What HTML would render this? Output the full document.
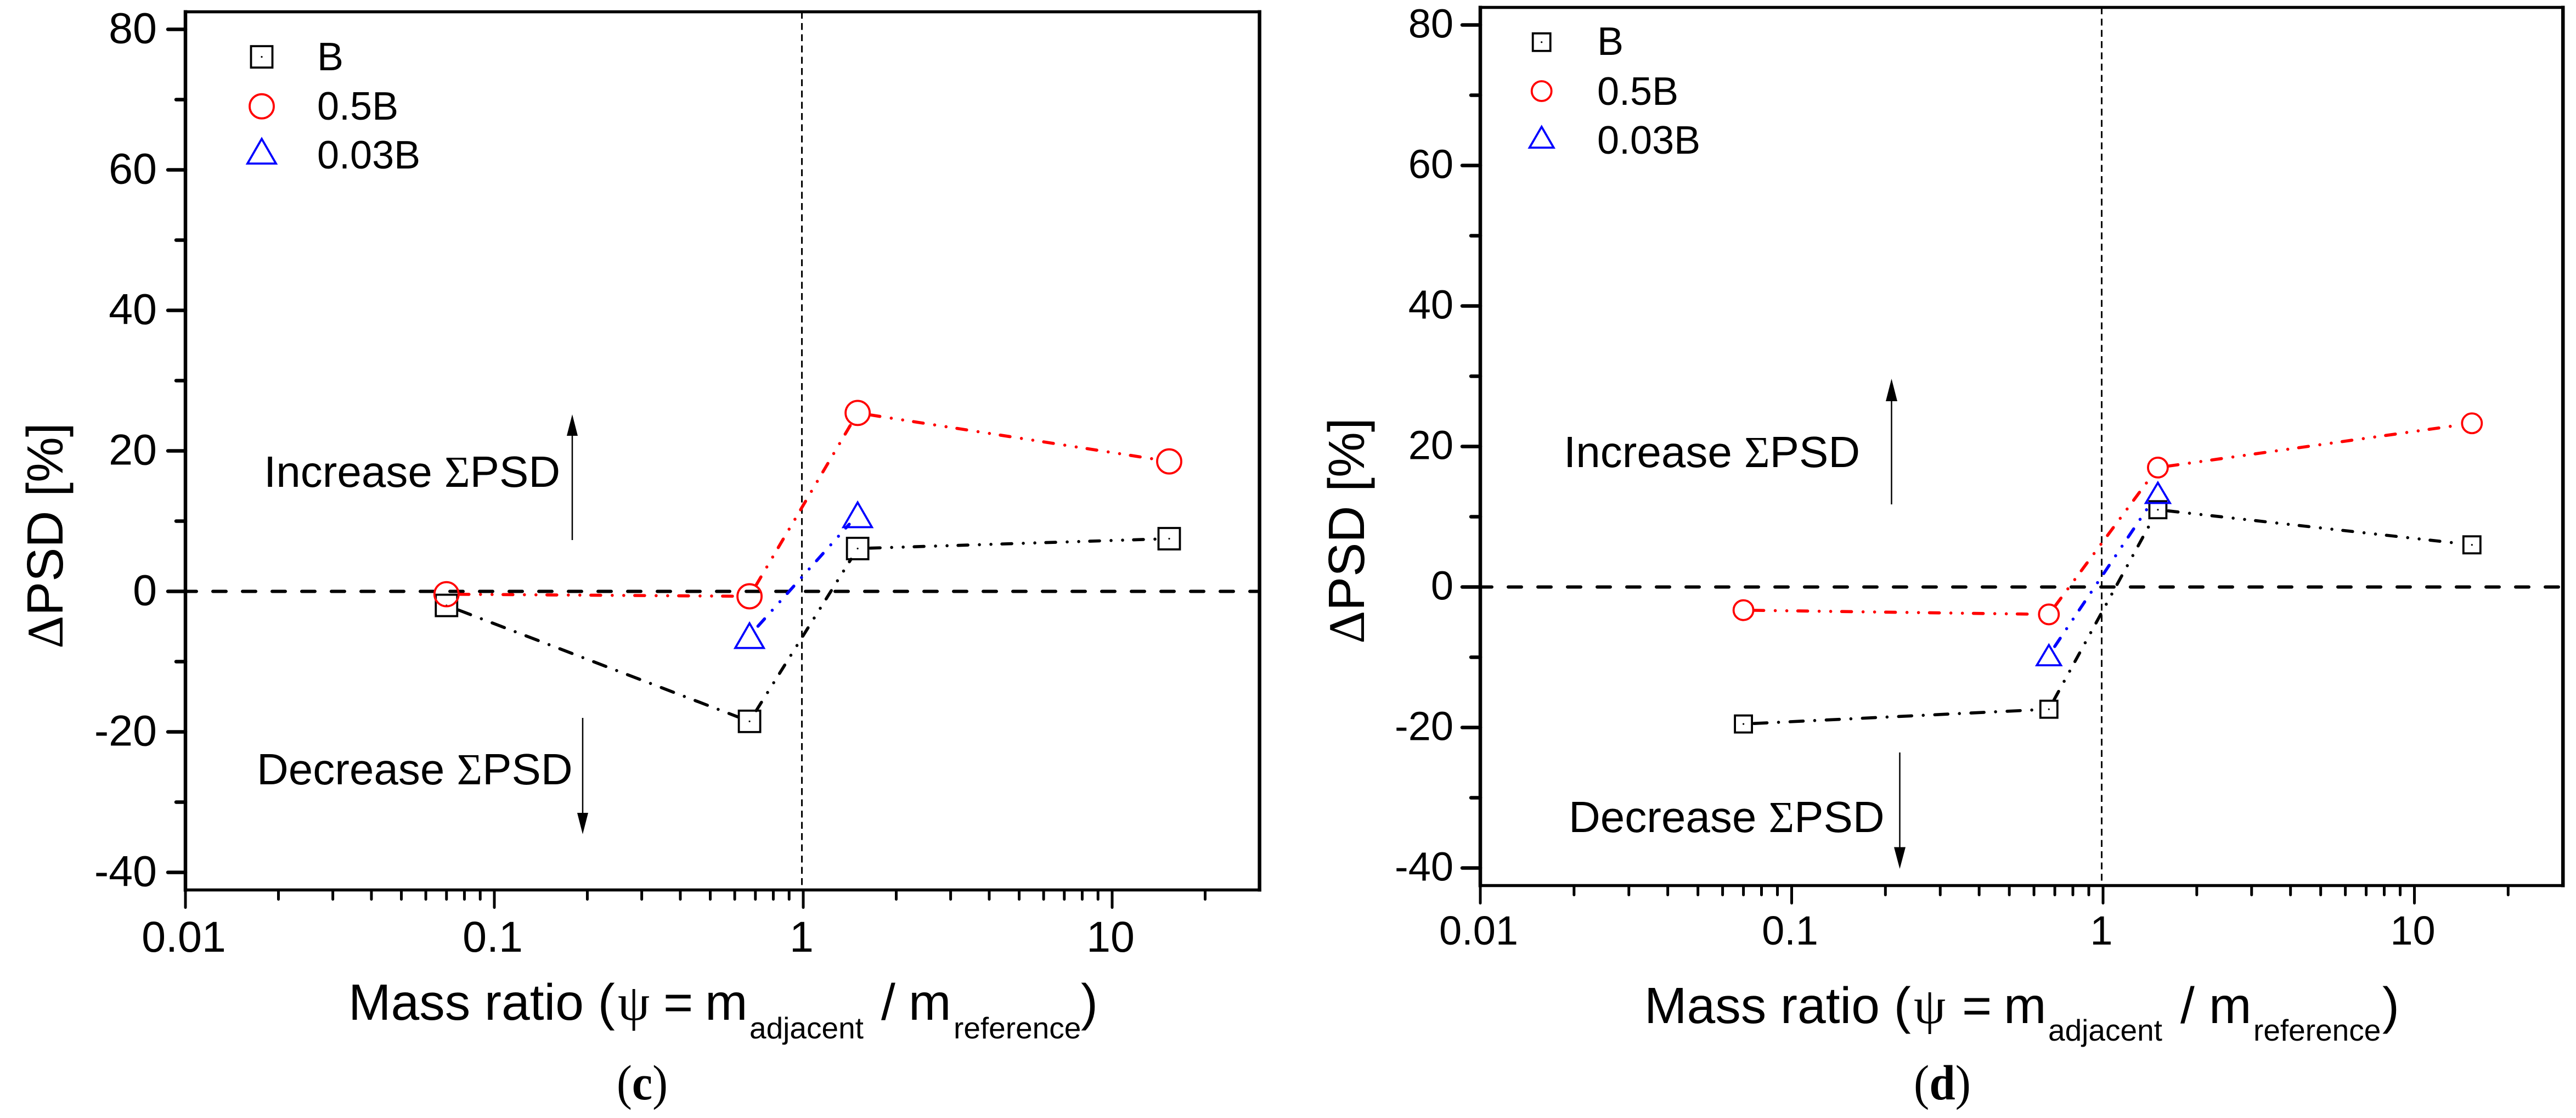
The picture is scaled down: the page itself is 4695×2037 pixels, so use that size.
<!DOCTYPE html>
<html lang="en">
<head>
<meta charset="utf-8">
<title>Mass ratio vs change in PSD, panels c and d</title>
<style>
html,body{margin:0;padding:0;background:#fff;width:4695px;height:2037px;overflow:hidden}
svg{display:block}
text{font-family:"Liberation Sans",sans-serif;fill:#000}
.sym{font-family:"Liberation Serif",serif}
</style>
</head>
<body>
<svg id="figure" xmlns="http://www.w3.org/2000/svg" width="4695" height="2037" viewBox="0 0 4695 2037">
<rect x="0" y="0" width="4695" height="2037" fill="#fff"/>

<!-- Panel c text -->
<text transform="translate(114 976) rotate(-90)" text-anchor="middle" font-size="93"><tspan class="sym">Δ</tspan>PSD [%]</text>
<text font-size="93" y="1858"><tspan x="635">Mass ratio (</tspan><tspan class="sym" x="1126">ψ</tspan><tspan x="1209">=</tspan><tspan x="1285">m</tspan><tspan x="1366" y="1892" font-size="55">adjacent</tspan><tspan x="1606" y="1858">/</tspan><tspan x="1656">m</tspan><tspan x="1738" y="1892" font-size="55">reference</tspan><tspan x="1970" y="1858">)</tspan></text>
<text x="578" y="128" font-size="72">B</text>
<text x="578" y="218" font-size="72">0.5B</text>
<text x="578" y="307" font-size="72">0.03B</text>
<text x="481" y="887" font-size="80">Increase <tspan class="sym">Σ</tspan>PSD</text>
<text x="468" y="1429" font-size="80">Decrease <tspan class="sym">Σ</tspan>PSD</text>
<g>
<line x1="1043" y1="984" x2="1043" y2="790" stroke="#000" stroke-width="2.5"/>
<polygon points="1043,755 1053,794 1033,794" fill="#000"/>
</g>
<g>
<line x1="1062" y1="1308" x2="1062" y2="1485" stroke="#000" stroke-width="2.5"/>
<polygon points="1062,1520 1072,1481 1052,1481" fill="#000"/>
</g>
<text class="sym" x="1124" y="2003" font-size="90" textLength="93" lengthAdjust="spacingAndGlyphs">(<tspan font-weight="bold">c</tspan>)</text>

<!-- Panel d text -->
<text transform="translate(2486 967) rotate(-90)" text-anchor="middle" font-size="93"><tspan class="sym">Δ</tspan>PSD [%]</text>
<text font-size="93" y="1864"><tspan x="2997">Mass ratio (</tspan><tspan class="sym" x="3488">ψ</tspan><tspan x="3576">=</tspan><tspan x="3652">m</tspan><tspan x="3733" y="1896" font-size="55">adjacent</tspan><tspan x="3974" y="1864">/</tspan><tspan x="4026">m</tspan><tspan x="4107" y="1896" font-size="55">reference</tspan><tspan x="4342" y="1864">)</tspan></text>
<text x="2911" y="100" font-size="72">B</text>
<text x="2911" y="191" font-size="72">0.5B</text>
<text x="2911" y="280" font-size="72">0.03B</text>
<text x="2850" y="851" font-size="80">Increase <tspan class="sym">Σ</tspan>PSD</text>
<text x="2859" y="1516" font-size="80">Decrease <tspan class="sym">Σ</tspan>PSD</text>
<g>
<line x1="3447.5" y1="919" x2="3447.5" y2="727" stroke="#000" stroke-width="2.5"/>
<polygon points="3447.5,690 3458,731 3437,731" fill="#000"/>
</g>
<g>
<line x1="3462.5" y1="1371" x2="3462.5" y2="1548" stroke="#000" stroke-width="2.5"/>
<polygon points="3462.5,1583 3473,1543.5 3452,1543.5" fill="#000"/>
</g>
<text class="sym" x="3488" y="2003" font-size="90" textLength="104" lengthAdjust="spacingAndGlyphs">(<tspan font-weight="bold">d</tspan>)</text>
</svg>

<script>
// Shared tick values and labels
const yMajorTicks = [-40, -20, 0, 20, 40, 60, 80];
const yTickLabels = ['-40', '-20', '0', '20', '40', '60', '80'];
const yMinorTicks = [-30, -10, 10, 30, 50, 70];
const xMajorTicks = [0.01, 0.1, 1, 10];
const xTickLabels = ['0.01', '0.1', '1', '10'];
const xMinorTicks = [0.02, 0.03, 0.04, 0.05, 0.06, 0.07, 0.08, 0.09, 0.2, 0.3, 0.4, 0.5, 0.6, 0.7, 0.8, 0.9, 2, 3, 4, 5, 6, 7, 8, 9, 20];
const zeroReference = 0;
const ratioReference = 0.99;

// Panel (c) series
const cBlackX = [0.07, 0.67, 1.5, 15.3];
const cBlackY = [-2, -18.5, 6.1, 7.5];
const cRedX = [0.07, 0.67, 1.5, 15.3];
const cRedY = [-0.4, -0.7, 25.4, 18.5];
const cBlueX = [0.67, 1.5];
const cBlueY = [-6.3, 10.9];

// Panel (d) series
const dBlackX = [0.07, 0.67, 1.5, 15.3];
const dBlackY = [-19.5, -17.4, 11, 6];
const dRedX = [0.07, 0.67, 1.5, 15.3];
const dRedY = [-3.3, -3.9, 17, 23.3];
const dBlueX = [0.67, 1.5];
const dBlueY = [-9.7, 13.4];

const svg = document.getElementById('figure');
const NS = 'http://www.w3.org/2000/svg';
const DASH_DOT_DOT = '18 21 0.01 21 0.01 20';
const DASH_DOT = '24 21 0.01 21';

function make(tag, parent, attrs) {
  const node = document.createElementNS(NS, tag);
  for (const key in attrs) node.setAttribute(key, attrs[key]);
  parent.appendChild(node);
  return node;
}

function drawMarker(parent, kind, cx, cy, color, m) {
  let shape;
  if (kind === 'square') {
    shape = make('rect', parent, {x: cx - m.square, y: cy - m.square, width: 2 * m.square, height: 2 * m.square, fill: 'none', stroke: color, 'stroke-width': 3.8});
    
    
    const dot = make('circle', parent, {cx: cx, cy: cy, r: 1.6, fill: color});
    
    
  } else if (kind === 'circle') {
    shape = make('circle', parent, {cx: cx, cy: cy, r: m.circle, fill: 'none', stroke: color, 'stroke-width': 3.8});
    
    
  } else {
    const pts = (cx) + ',' + (cy - m.triH) + ' ' + (cx + m.triW) + ',' + (cy + m.triH) + ' ' + (cx - m.triW) + ',' + (cy + m.triH);
    shape = make('polygon', parent, {points: pts, fill: 'none', stroke: color, 'stroke-width': 3.8, 'stroke-linejoin': 'miter'});
    
    
  }
}

function drawSeries(parent, p, xs, ys, kind, color, name, firstDash) {
  const g = make('g', parent, {});
  
  
  for (let i = 0; i < xs.length - 1; i++) {
    const x1 = p.sx(xs[i]), y1 = p.sy(ys[i]), x2 = p.sx(xs[i + 1]), y2 = p.sy(ys[i + 1]);
    const len = Math.hypot(x2 - x1, y2 - y1);
    const ux = (x2 - x1) / len, uy = (y2 - y1) / len;
    const gap = p.marker.gap;
    const seg = make('line', g, {
      x1: x1 + ux * gap, y1: y1 + uy * gap, x2: x2 - ux * gap, y2: y2 - uy * gap,
      stroke: color, 'stroke-width': 5.6, 'stroke-linecap': 'round',
      'stroke-dasharray': i === 0 && firstDash ? firstDash : DASH_DOT_DOT
    });
    
    
  }
  for (let i = 0; i < xs.length; i++) {
    drawMarker(g, kind, p.sx(xs[i]), p.sy(ys[i]), color, p.marker);
  }
}

function drawPanel(p) {
  const sx = v => p.left + (Math.log10(v) + 2) * p.decade;
  const sy = v => p.y0 - v * p.unit;
  p.sx = sx;
  p.sy = sy;
  const right = sx(30), top = sy(82.5), bottom = sy(-42.5);

  const root = make('g', svg, {});
  
  

  const zero = make('line', root, {x1: p.left, x2: right - 4, y1: sy(zeroReference), y2: sy(zeroReference), stroke: '#000', 'stroke-width': 6, 'stroke-linecap': 'round', 'stroke-dasharray': '24 30', 'stroke-dashoffset': p.zeroOffset});
  
  

  const vert = make('line', root, {x1: sx(ratioReference), x2: sx(ratioReference), y1: top, y2: bottom, stroke: '#000', 'stroke-width': 3, 'stroke-dasharray': '12.5 8'});
  
  

  const frame = make('g', root, {stroke: '#000', 'stroke-linecap': 'butt'});
  
  
  const topSpine = make('line', frame, {x1: p.left - 3, x2: right + 3, y1: top, y2: top, 'stroke-width': 5.6});
  
  
  const bottomSpine = make('line', frame, {x1: p.left - 3, x2: right + 3, y1: bottom, y2: bottom, 'stroke-width': 5.6});
  
  
  const leftSpine = make('line', frame, {x1: p.left, x2: p.left, y1: top - 3, y2: bottom + 3, 'stroke-width': 6.5});
  
  
  const rightSpine = make('line', frame, {x1: right, x2: right, y1: top - 3, y2: bottom + 3, 'stroke-width': 6.5});
  
  

  yMajorTicks.forEach((v, i) => {
    const tick = make('line', frame, {x1: p.left - p.yMajorLen, x2: p.left, y1: sy(v), y2: sy(v), 'stroke-width': 6.5, 'stroke-linecap': 'round'});
    
    
    const label = make('text', root, {x: p.yLabelX, y: sy(v) + p.yLabelDy, 'text-anchor': 'end', 'font-size': p.tickFont});
    label.textContent = yTickLabels[i];
    
    
  });
  yMinorTicks.forEach(v => {
    const tick = make('line', frame, {x1: p.left - 17, x2: p.left, y1: sy(v), y2: sy(v), 'stroke-width': 6.5, 'stroke-linecap': 'round'});
    
    
  });
  xMajorTicks.forEach((v, i) => {
    const tick = make('line', frame, {x1: sx(v), x2: sx(v), y1: bottom, y2: bottom + 32, 'stroke-width': 5, 'stroke-linecap': 'round'});
    
    
    const label = make('text', root, {x: sx(v) - 3, y: p.xLabelY, 'text-anchor': 'middle', 'font-size': p.tickFont});
    label.textContent = xTickLabels[i];
    
    
  });
  xMinorTicks.forEach(v => {
    const tick = make('line', frame, {x1: sx(v), x2: sx(v), y1: bottom, y2: bottom + 17, 'stroke-width': 5, 'stroke-linecap': 'round'});
    
    
  });

  drawSeries(root, p, p.black[0], p.black[1], 'square', '#000', 'series-b', DASH_DOT);
  drawSeries(root, p, p.red[0], p.red[1], 'circle', '#f00', 'series-0.5b');
  drawSeries(root, p, p.blue[0], p.blue[1], 'triangle', '#00f', 'series-0.03b');

  const legend = make('g', root, {});
  
  
  drawMarker(legend, 'square', p.legendX, p.legendY[0], '#000', p.legendMarker);
  drawMarker(legend, 'circle', p.legendX, p.legendY[1], '#f00', p.legendMarker);
  drawMarker(legend, 'triangle', p.legendX, p.legendY[2], '#00f', p.legendMarker);
}

drawPanel({
  id: 'c', left: 338, decade: 563, y0: 1077.5, unit: 12.8, zeroOffset: 4,
  yMajorLen: 32, yLabelX: 286, yLabelDy: 25, xLabelY: 1734, tickFont: 79,
  marker: {square: 19.5, circle: 22, triW: 26, triH: 22.5, gap: 23},
  legendMarker: {square: 19.5, circle: 22, triW: 26, triH: 22.5},
  legendX: 477, legendY: [103.6, 193.7, 275.5],
  black: [cBlackX, cBlackY], red: [cRedX, cRedY], blue: [cBlueX, cBlueY]
});
drawPanel({
  id: 'd', left: 2698, decade: 567.5, y0: 1069.5, unit: 12.8, zeroOffset: 3,
  yMajorLen: 33, yLabelX: 2649, yLabelDy: 23, xLabelY: 1721, tickFont: 74,
  marker: {square: 15.5, circle: 18, triW: 22, triH: 18.5, gap: 19},
  legendMarker: {square: 16, circle: 18, triW: 22, triH: 19},
  legendX: 2809.7, legendY: [76.8, 166, 250],
  black: [dBlackX, dBlackY], red: [dRedX, dRedY], blue: [dBlueX, dBlueY]
});
</script>
</body>
</html>
